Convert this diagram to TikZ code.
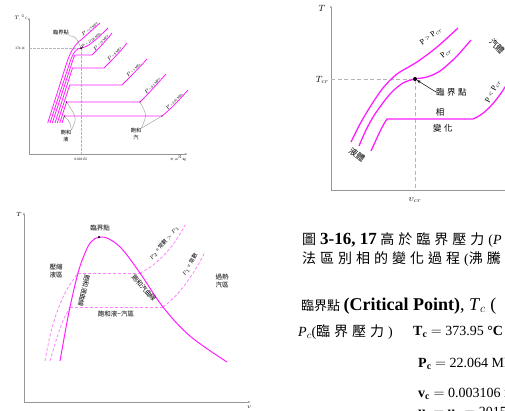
\documentclass[tikz,border=0pt]{standalone}
\usepackage{fontspec}
\setmainfont{Liberation Serif}
\newfontfamily\cjk{Noto Sans CJK TC}
\usetikzlibrary{arrows.meta}
\definecolor{isoMag}{RGB}{255, 30, 255}
\definecolor{axisGray}{RGB}{150, 150, 150}
\makeatletter
\newcommand\cjkgap[2][4pt]{{\cjk\def\cjkgap@sep{\hspace{#1}}\cjkgap@i#2\@nil}}
\def\cjkgap@i#1{\ifx#1\@nil\else#1\cjkgap@sep\expandafter\cjkgap@i\fi}
\makeatother

\begin{document}
\begin{tikzpicture}[
    x=1pt, y=-1pt,
    axis/.style={draw=axisGray, line width=0.8pt, -{Latex[length=3pt, width=2pt]}},
    guide/.style={draw=axisGray!70, dash pattern=on 2.5pt off 1.5pt, line width=0.5pt},
    iso/.style={draw=isoMag, line width=0.8pt},
    isodash/.style={draw=isoMag!55, dash pattern=on 3pt off 2pt, line width=0.8pt},
    tinylab/.style={font=\fontsize{3.4}{4}\selectfont, inner sep=0.3pt},
    smalllab/.style={font=\fontsize{5.2}{6.5}\cjk, inner sep=0pt, align=center},
    midlab/.style={font=\fontsize{6.5}{8}\cjk, inner sep=0pt, align=center},
    plab/.style={font=\fontsize{8}{9}\selectfont, inner sep=0pt},
    bigtxt/.style={font=\fontsize{14}{16}\selectfont, anchor=west, inner sep=0pt},
    satdot/.style={circle, fill=black, inner sep=0pt, minimum size=1.4pt},
  ]
    \path[use as bounding box] (0,0) rectangle (505,410);
    \clip (0,0) rectangle (505,410);

    % T-v diagram of water, several pressures
    \draw[axis] (29,154) -- (29,17);
    \draw[axis] (29,154) -- (188,154);
    \node[tinylab] (tlT) at (21,18) {$T$, $^\circ$C};
    \node[tinylab] (tlTc) at (20,48) {374.14};
    \node[tinylab] (tlvc) at (81,159) {0.003155};
    \node[tinylab] (tlv) at (178,158) {$v$, m$^3$/kg};
    \draw[guide] (29,48) -- (81,48) -- (81,154);

    \draw[iso] (62,123) -- (64.3,116) -- (162,116) .. controls (172,108) and (180,99) .. (188,90)
      node[midway, sloped, above, tinylab] (tlp7) {$P$ = 0.01 MPa};
    \draw[iso] (59.7,123) -- (66.6,102) -- (140,102) .. controls (150,92) and (158,83) .. (166,74)
      node[midway, sloped, above, tinylab] (tlp6) {$P$ = 0.1 MPa};
    \draw[iso] (57.3,123) -- (69.8,85) -- (122,85) .. controls (131,76) and (139,68) .. (147,59)
      node[midway, sloped, above, tinylab] (tlp5) {$P$ = 1 MPa};
    \draw[iso] (55,123) -- (72.5,68) -- (104,68) .. controls (112,60) and (120,52) .. (127,43)
      node[midway, sloped, above, tinylab] (tlp4) {$P$ = 8 MPa};
    \draw[iso] (52.3,123) -- (73.5,58) .. controls (74,56) .. (75,55) -- (92,55) .. controls (99,48) and (106,41) .. (112,33)
      node[midway, sloped, above, tinylab] (tlp3) {$P$ = 15 MPa};
    \draw[iso] (50,123) -- (70,62) .. controls (73,53) and (76,48.5) .. (81,48) .. controls (87,47) and (92,44) .. (108,28)
      node[pos=0.55, sloped, above, tinylab] (tlp2) {$P$ = 22.06 MPa};
    \draw[iso] (47.7,123) -- (67,62) .. controls (70,53) and (74,45) .. (82,39) -- (100,23)
      node[midway, sloped, above, tinylab] (tlp1) {$P$ = 25 MPa};

    \node[satdot, minimum size=2pt] (tlcp) at (81,48) {};
    \node[smalllab] (tlcpl) at (61,33) {臨界點};
    \draw[axisGray, line width=0.4pt] (tlcpl.south east) .. controls (76,37) .. (tlcp);

    \node[satdot] (tlfa) at (66.6,102) {};
    \node[satdot] (tlfb) at (64.3,116) {};
    \node[satdot] (tlga) at (140,102) {};
    \node[satdot] (tlgb) at (162,116) {};
    \node[smalllab] (tlsf) at (66,136) {飽和\\液};
    \node[smalllab] (tlsg) at (136,134) {飽和\\汽};
    \draw[axisGray, line width=0.4pt] (tlsf.north east) .. controls (77,118) .. (tlfa);
    \draw[axisGray, line width=0.4pt] (tlsf.north east) .. controls (70,122) .. (tlfb);
    \draw[axisGray, line width=0.4pt] (tlsg.north east) .. controls (147,115) .. (tlga);
    \draw[axisGray, line width=0.4pt] (tlsg.north east) .. controls (152,122) .. (tlgb);

    % T-v diagram, critical pressure
    \draw[axis, line width=1pt] (331,190) -- (331,5);
    \draw[axis, line width=1pt] (331,190) -- (510,190);
    \node[font=\fontsize{9}{10}\selectfont, inner sep=0pt] (trT) at (322,8) {$T$};
    \node[font=\fontsize{9}{10}\selectfont, inner sep=0pt, anchor=east] (trTc) at (329,80) {$T_{cr}$};
    \node[font=\fontsize{9}{10}\selectfont, inner sep=0pt] (trvc) at (415,200) {$\upsilon_{cr}$};
    \draw[guide, line width=0.8pt, dash pattern=on 4pt off 2.5pt] (331,79) -- (415,79) -- (415,190);

    \draw[iso, line width=1.3pt] plot[smooth] coordinates {(351,142) (360,124) (370,107) (383,88) (397,74) (417,62) (437,47) (458,28)};
    \draw[iso, line width=1.3pt] plot[smooth] coordinates {(359,146) (366,130) (375,114) (390,94) (403,83) (415,79) (427,77) (440,71) (456,57) (471,40)};
    \draw[iso, line width=1.3pt] (371,151) .. controls (377,138) and (382,126) .. (387,119) -- (473,119)
      .. controls (486,114) and (497,100) .. (507,84);

    \node[circle, fill=black, inner sep=0pt, minimum size=4pt] (trcp) at (415,79) {};
    \node[midlab, font=\fontsize{8.5}{10}\cjk, anchor=west] (trcpl) at (436,92) {\cjkgap[2.5pt]{臨界點}};
    \draw[-{Stealth[length=4pt]}, line width=0.5pt] (trcpl.west) -- (trcp);
    \node[plab, rotate=36] (trpg) at (431,36) {P > P$_{cr}$};
    \node[plab, rotate=40] (trpc) at (446,53) {P$_{cr}$};
    \node[plab, rotate=62] (trpl) at (493,91) {P < P$_{cr}$};
    \node[midlab, font=\fontsize{8.5}{10}\cjk, rotate=-45] (trgas) at (497,46) {汽體};
    \node[midlab, font=\fontsize{8.5}{10}\cjk, rotate=-35] (trliq) at (357,155) {液體};
    \node[midlab, font=\fontsize{8.5}{10}\cjk] (trph) at (440,112) {相};
    \node[midlab, font=\fontsize{8.5}{10}\cjk] (trch) at (444,128) {\cjkgap[2.5pt]{變化}};

    % T-v diagram, saturation dome
    \draw[axis] (24,402) -- (24,212);
    \draw[axis] (24,402) -- (251,402);
    \node[font=\fontsize{6}{7}\selectfont, inner sep=0pt] (blT) at (19,214) {$T$};
    \node[font=\fontsize{6}{7}\selectfont, inner sep=0pt] (blv) at (249,407) {$v$};

    \draw[isodash] plot[smooth] coordinates {(45,361) (50,336) (57,312) (66,291) (78,273)};
    \draw[isodash] plot[smooth] coordinates {(50,361) (55,344) (62,323) (70,307)};
    \draw[isodash] (78,273) -- (140,273);
    \draw[isodash] (70,307) -- (163,307);
    \draw[isodash] (140,273) .. controls (158,265) and (175,245) .. (185,225);
    \draw[isodash] (163,307) .. controls (180,295) and (195,272) .. (205,252);

    \draw[iso, line width=1pt] plot[smooth, tension=0.6] coordinates {(60,361) (65,333) (70,307) (78,273) (85,253) (91,242) (99,237) (109,239) (122,249) (140,273) (163,307) (190,336) (227,362)};
    \node[circle, fill=black, inner sep=0pt, minimum size=2.5pt] (blcp) at (99,237) {};

    \node[midlab] (blcpl) at (100,228) {臨界點};
    \node[midlab] (blcl) at (56,271) {壓縮\\液區};
    \node[midlab, rotate=-103] (blsf) at (84,291) {飽和液曲線};
    \node[midlab, rotate=-49] (blsg) at (144,288) {飽和汽曲線};
    \node[midlab] (blmix) at (116,314) {飽和液−汽區};
    \node[midlab, font=\fontsize{5.5}{6.5}\cjk, rotate=50] (blp2) at (164,243) {$P_2$ = 常數 $> P_1$};
    \node[midlab, font=\fontsize{5.5}{6.5}\cjk, rotate=58] (blp1) at (190,265) {$P_1$ = 常數};
    \node[midlab] (blsv) at (222,281) {過熱\\汽區};

    % caption and critical-point data
    \node[bigtxt] (cap1) at (302,240) {\cjkgap{圖}\textbf{\fontsize{17}{18}\selectfont 3-16, 17} \cjkgap{高於臨界壓力}(\textit{P} > \textit{P}$_{cr}$)};
    \node[bigtxt] (cap2) at (302,259) {\cjkgap{法區別相的變化過程}(\cjkgap{沸騰})};
    \node[bigtxt] (crit1) at (301,306) {{\fontsize{13}{14}\cjk 臨界點} {\fontsize{18}{20}\selectfont\textbf{(Critical Point)}, \textit{T}$_c$ (}};
    \node[bigtxt] (crit2) at (298,332) {\textit{P}$_c$(\cjkgap{臨界壓力})};
    \node[bigtxt] (critT) at (413,332) {\textbf{T\textsubscript{c}} $=$ 373.95 \textbf{°C}};
    \node[bigtxt] (critP) at (418,364) {\textbf{P\textsubscript{c}} $=$ 22.064 MPa};
    \node[bigtxt] (critv) at (418,393) {\textbf{v\textsubscript{c}} $=$ 0.003106 m$^3$/kg};
    \node[bigtxt] (critu) at (418,414) {\textbf{u\textsubscript{f}} $=$ \textbf{u\textsubscript{g}} $=$ 2015.7 kJ/kg};
\end{tikzpicture}
\end{document}
